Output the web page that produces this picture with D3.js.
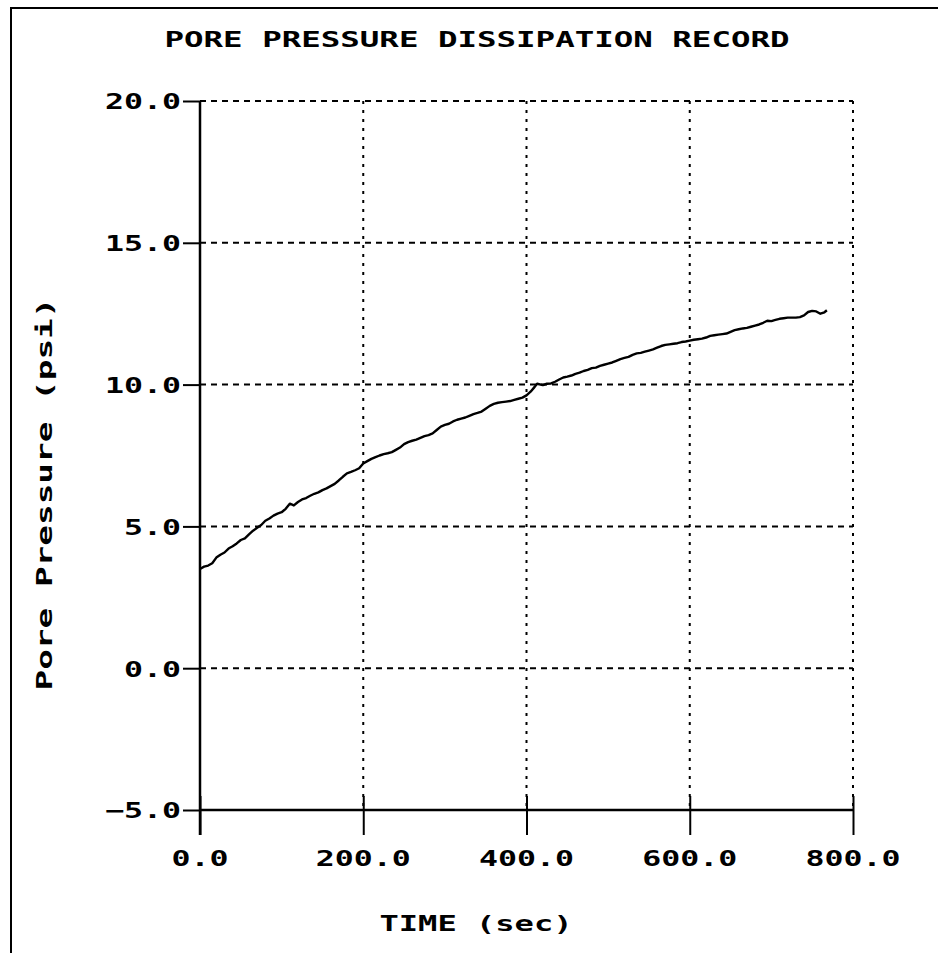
<!DOCTYPE html>
<html>
<head>
<meta charset="utf-8">
<script src="https://cdn.jsdelivr.net/npm/d3@7"></script>
<style>
  html, body { margin: 0; padding: 0; background: #fff; }
  svg { display: block; }
  text { font-family: "DejaVu Sans Mono", "Liberation Mono", monospace; font-weight: bold; fill: #000; }
</style>
</head>
<body>
<svg id="chart" width="938" height="953"></svg>
<script>
// Piezocone dissipation test: pore pressure logged against elapsed time
const timeSec = [
  0, 5, 10, 15, 20, 25, 30, 35, 40, 45, 50, 55, 60, 65, 70, 75, 80, 85, 90, 95,
  100, 105, 110, 115, 120, 125, 130, 135, 140, 145, 150, 155, 160, 165, 170, 175, 180, 185, 190, 195,
  200, 205, 210, 215, 220, 225, 230, 235, 240, 245, 250, 255, 260, 265, 270, 275, 280, 285, 290, 295,
  300, 305, 310, 315, 320, 325, 330, 335, 340, 345, 350, 355, 360, 365, 370, 375, 380, 385, 390, 395,
  400, 405, 410, 413, 420, 425, 430, 435, 440, 445, 450, 455, 460, 465, 470, 475, 480, 485, 490, 495,
  500, 505, 510, 515, 520, 525, 530, 535, 540, 545, 550, 555, 560, 565, 570, 575, 580, 585, 590, 595,
  600, 605, 610, 615, 620, 625, 630, 635, 640, 645, 650, 655, 660, 665, 670, 675, 680, 685, 690, 695,
  700, 705, 710, 715, 720, 725, 730, 735, 740, 745, 750, 755, 760, 765, 768
];
const porePsi = [
  3.50, 3.58, 3.62, 3.70, 3.90, 4.00, 4.08, 4.22, 4.30, 4.40, 4.52, 4.58, 4.72, 4.85, 4.95, 5.05, 5.20, 5.28, 5.38, 5.45,
  5.50, 5.62, 5.80, 5.74, 5.86, 5.95, 6.00, 6.08, 6.15, 6.20, 6.28, 6.34, 6.42, 6.50, 6.62, 6.75, 6.87, 6.92, 6.98, 7.05,
  7.22, 7.30, 7.38, 7.44, 7.50, 7.55, 7.58, 7.62, 7.70, 7.78, 7.90, 7.97, 8.02, 8.06, 8.12, 8.18, 8.22, 8.28, 8.40, 8.52,
  8.58, 8.62, 8.70, 8.76, 8.80, 8.84, 8.90, 8.96, 9.00, 9.05, 9.15, 9.25, 9.32, 9.36, 9.38, 9.40, 9.42, 9.46, 9.50, 9.54,
  9.62, 9.75, 9.92, 10.03, 9.98, 10.03, 10.04, 10.10, 10.18, 10.25, 10.28, 10.32, 10.38, 10.42, 10.48, 10.52, 10.58, 10.60, 10.66, 10.70,
  10.74, 10.78, 10.84, 10.90, 10.94, 10.98, 11.05, 11.10, 11.12, 11.16, 11.20, 11.24, 11.30, 11.36, 11.40, 11.42, 11.44, 11.46, 11.50, 11.52,
  11.55, 11.58, 11.60, 11.62, 11.66, 11.72, 11.74, 11.76, 11.78, 11.80, 11.86, 11.92, 11.95, 11.98, 12.00, 12.04, 12.08, 12.12, 12.18, 12.25,
  12.24, 12.28, 12.32, 12.34, 12.36, 12.36, 12.36, 12.38, 12.44, 12.56, 12.60, 12.58, 12.50, 12.55, 12.62
];
const xTickValues = [0, 200, 400, 600, 800];
const yTickValues = [-5, 0, 5, 10, 15, 20];
const chartTitle = "PORE PRESSURE DISSIPATION RECORD";
const xAxisTitle = "TIME (sec)";
const yAxisTitle = "Pore Pressure (psi)";

const svg = d3.select("#chart");
const W = 938, H = 953;
const plot = { left: 200, right: 853, top: 101, bottom: 810 };
const charW = 19; // blocky wide glyph cell

const x = d3.scaleLinear().domain([0, 800]).range([plot.left, plot.right]);
const y = d3.scaleLinear().domain([-5, 20]).range([plot.bottom, plot.top]);
const fmt = d3.format(".1f");

svg.append("rect").attr("width", W).attr("height", H).attr("fill", "#fff");

// page frame (left and top edges)
svg.append("path")
  .attr("d", `M11,${H} L11,8 L${W},8`)
  .attr("fill", "none").attr("stroke", "#000").attr("stroke-width", 2);

// title
svg.append("text")
  .attr("x", 477).attr("y", 47)
  .attr("text-anchor", "middle")
  .attr("font-size", 21)
  .attr("textLength", 625).attr("lengthAdjust", "spacingAndGlyphs")
  .text(chartTitle);

// horizontal grid (dotted)
svg.append("g").selectAll("line")
  .data(yTickValues.filter(v => v !== -5))
  .join("line")
  .attr("x1", plot.left).attr("x2", plot.right)
  .attr("y1", d => y(d)).attr("y2", d => y(d))
  .attr("stroke", "#000").attr("stroke-width", 2)
  .attr("stroke-dasharray", "6,5");

// vertical grid (dotted)
svg.append("g").selectAll("line")
  .data(xTickValues.filter(v => v !== 0))
  .join("line")
  .attr("x1", d => x(d)).attr("x2", d => x(d))
  .attr("y1", plot.top).attr("y2", plot.bottom)
  .attr("stroke", "#000").attr("stroke-width", 2)
  .attr("stroke-dasharray", "3,6");

// y axis
const yAxis = d3.axisLeft(y).tickValues(yTickValues).tickSize(17).tickPadding(2).tickFormat(fmt);
const gy = svg.append("g").attr("transform", `translate(${plot.left},0)`).call(yAxis);
gy.select(".domain").remove();
gy.selectAll(".tick line").attr("stroke", "#000").attr("stroke-width", 2);
gy.selectAll(".tick text")
  .attr("font-size", 22)
  .attr("font-family", null)
  .attr("dy", "0.36em")
  .attr("textLength", d => fmt(d).length * charW)
  .attr("lengthAdjust", "spacingAndGlyphs");
svg.append("line")
  .attr("x1", plot.left).attr("x2", plot.left)
  .attr("y1", plot.top).attr("y2", 835)
  .attr("stroke", "#000").attr("stroke-width", 2.5);

// x axis
const xAxis = d3.axisBottom(x).tickValues(xTickValues).tickSize(25).tickPadding(0).tickFormat(() => "");
const gx = svg.append("g").attr("transform", `translate(0,${plot.bottom})`).call(xAxis);
gx.select(".domain").remove();
gx.selectAll(".tick line").attr("y1", -14).attr("stroke", "#000").attr("stroke-width", 2);
svg.append("line")
  .attr("x1", plot.left).attr("x2", plot.right)
  .attr("y1", plot.bottom).attr("y2", plot.bottom)
  .attr("stroke", "#000").attr("stroke-width", 2.5);

svg.append("g").selectAll("text")
  .data(xTickValues)
  .join("text")
  .attr("x", d => x(d)).attr("y", 866)
  .attr("text-anchor", "middle")
  .attr("font-size", 21)
  .attr("textLength", d => fmt(d).length * charW)
  .attr("lengthAdjust", "spacingAndGlyphs")
  .text(fmt);

// axis titles
svg.append("text")
  .attr("x", 476).attr("y", 931)
  .attr("text-anchor", "middle")
  .attr("font-size", 21)
  .attr("textLength", 193).attr("lengthAdjust", "spacingAndGlyphs")
  .text(xAxisTitle);

svg.append("text")
  .attr("transform", "translate(52,494) rotate(-90)")
  .attr("text-anchor", "middle")
  .attr("font-size", 22)
  .attr("textLength", 393).attr("lengthAdjust", "spacingAndGlyphs")
  .text(yAxisTitle);

// dissipation curve
const line = d3.line()
  .x((d, i) => x(timeSec[i]))
  .y(d => y(d));
svg.append("path")
  .datum(porePsi)
  .attr("d", line)
  .attr("fill", "none")
  .attr("stroke", "#000")
  .attr("stroke-width", 2.4)
  .attr("stroke-linejoin", "round");
</script>
</body>
</html>
